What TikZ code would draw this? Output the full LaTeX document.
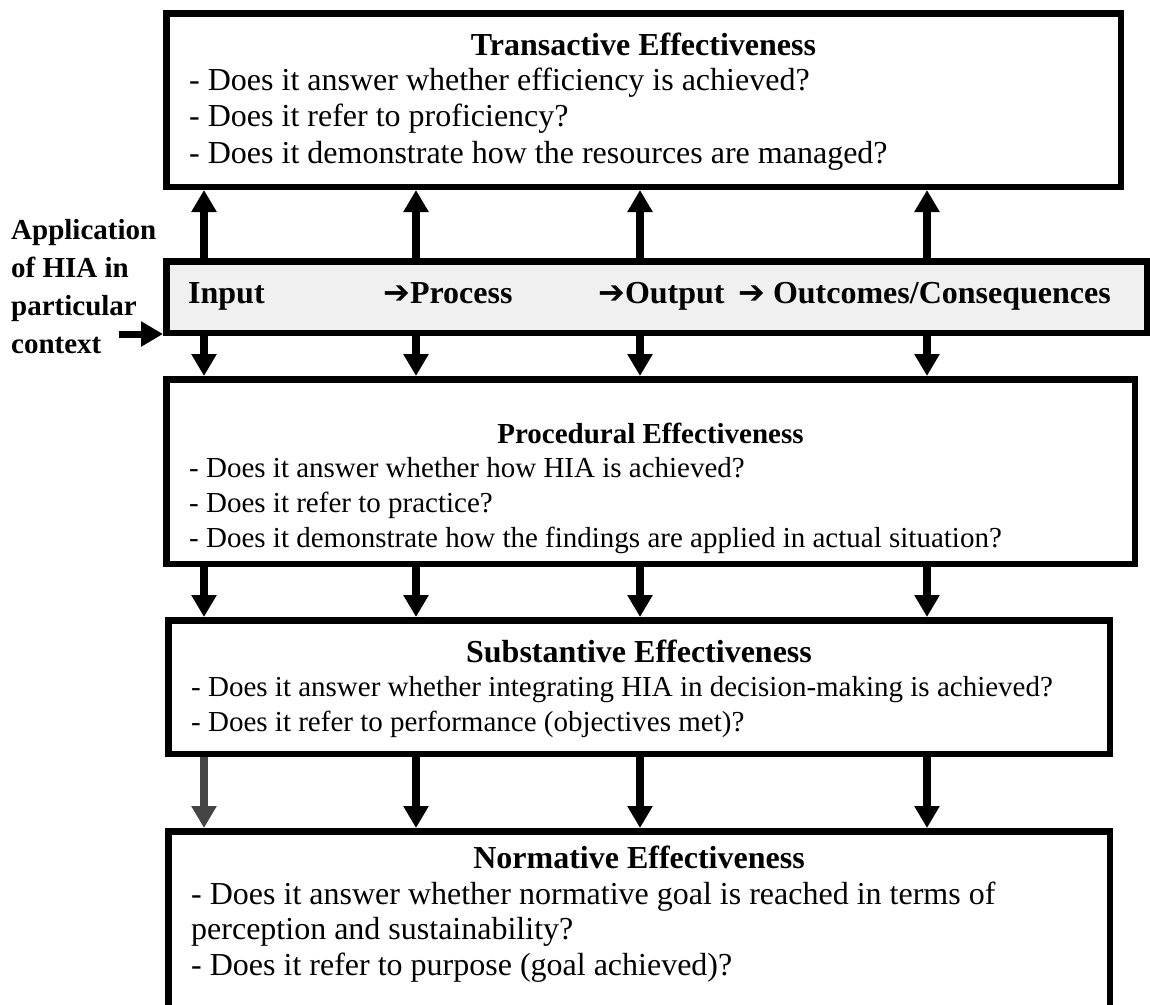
\documentclass[tikz,border=0pt]{standalone}
\usepackage{fontspec}
\setmainfont{Liberation Serif}
\newfontfamily\arrowfont{DejaVu Sans}
\usepackage{xcolor}
\usepackage{tikz}
\usetikzlibrary{arrows.meta, positioning, calc}

\definecolor{barfill}{HTML}{F0F0F0}
\definecolor{arrowgray}{HTML}{454545}
\newcommand{\ra}{{\arrowfont ➔}}

\begin{document}
\begin{tikzpicture}[x=1pt, y=-1pt,
  box/.style={draw, line width=6.5pt, rectangle, anchor=north west, inner sep=0pt},
  ttl/.style={font=\fontsize{32}{38}\selectfont\bfseries, inner sep=0pt, anchor=base},
  txt/.style={font=\fontsize{29}{35}\selectfont, inner sep=0pt, anchor=base west, align=left},
  bigtxt/.style={txt, font=\fontsize{32}{35.5}\selectfont},
  lbl/.style={font=\fontsize{32}{38}\selectfont\bfseries, inner sep=0pt, anchor=base west},
  flow/.style={line width=8pt, -{Triangle[width=24pt, length=22pt]}}]
  \useasboundingbox (0,0) rectangle (1150,1004);
  \clip (0,0) rectangle (1150,1004);

  % the four levels and the HIA bar
  \node[box, minimum width=954.5pt, minimum height=173.5pt] (trans) at (163,10) {};
  \node[box, fill=barfill, minimum width=980.5pt, minimum height=71.5pt] (bar) at (163,258) {};
  \node[box, minimum width=968.5pt, minimum height=184.5pt] (proc) at (163,376) {};
  \node[box, minimum width=941.5pt, minimum height=133.5pt] (subst) at (165,617) {};
  \node[box, minimum width=941.5pt, minimum height=213.5pt] (norm) at (165,828) {};

  % texts (base = last line)
  \node[ttl] (transttl) at ($(trans.north)+(0,45)$) {Transactive Effectiveness};
  \node[bigtxt, font=\fontsize{32}{36.5}\selectfont] (transtxt) at ($(trans.north west)+(26,153)$)
    {- Does it answer whether efficiency is achieved?\\- Does it refer to proficiency?\\- Does it demonstrate how the resources are managed?};

  \node[ttl, font=\fontsize{29}{35}\selectfont\bfseries] (procttl) at ($(proc.north)+(0,67)$) {Procedural Effectiveness};
  \node[txt] (proctxt) at ($(proc.north west)+(26,171)$)
    {- Does it answer whether how HIA is achieved?\\- Does it refer to practice?\\- Does it demonstrate how the findings are applied in actual situation?};

  \node[ttl] (substttl) at ($(subst.north)+(0,45)$) {Substantive Effectiveness};
  \node[txt] (substtxt) at ($(subst.north west)+(26,114)$)
    {- Does it answer whether integrating HIA in decision-making is achieved?\\- Does it refer to performance (objectives met)?};

  \node[ttl] (normttl) at ($(norm.north)+(0,40)$) {Normative Effectiveness};
  \node[bigtxt] (normtxt) at ($(norm.north west)+(26,147)$)
    {- Does it answer whether normative goal is reached in terms of\\perception and sustainability?\\- Does it refer to purpose (goal achieved)?};

  % bar labels
  \node[lbl] (input) at (188,303) {Input};
  \node[lbl] (process) at (383,303) {\ra Process};
  \node[lbl] (output) at (598,303) {\ra Output};
  \node[lbl] (outcomes) at (738,303) {\ra\ Outcomes/Consequences};

  \node[lbl, font=\fontsize{29}{38}\selectfont\bfseries, align=left] (applabel) at (11,353)
    {Application\\of HIA in\\particular\\context};
  \coordinate (ctxstart) at (119,334);
  \draw[flow, line width=7pt] (ctxstart) -- (bar.west |- ctxstart);

  % arrows between levels
  \foreach \i/\x in {1/204, 2/416, 3/640, 4/927}
    \coordinate (col\i) at (\x,0);
  \foreach \i in {1,...,4} {
    \draw[flow] (bar.north -| col\i) -- (trans.south -| col\i);
    \draw[flow] (bar.south -| col\i) -- (proc.north -| col\i);
    \draw[flow] (proc.south -| col\i) -- (subst.north -| col\i);
  }
  \draw[flow, arrowgray] (subst.south -| col1) -- (norm.north -| col1);
  \foreach \i in {2,3,4}
    \draw[flow] (subst.south -| col\i) -- (norm.north -| col\i);
\end{tikzpicture}
\end{document}
